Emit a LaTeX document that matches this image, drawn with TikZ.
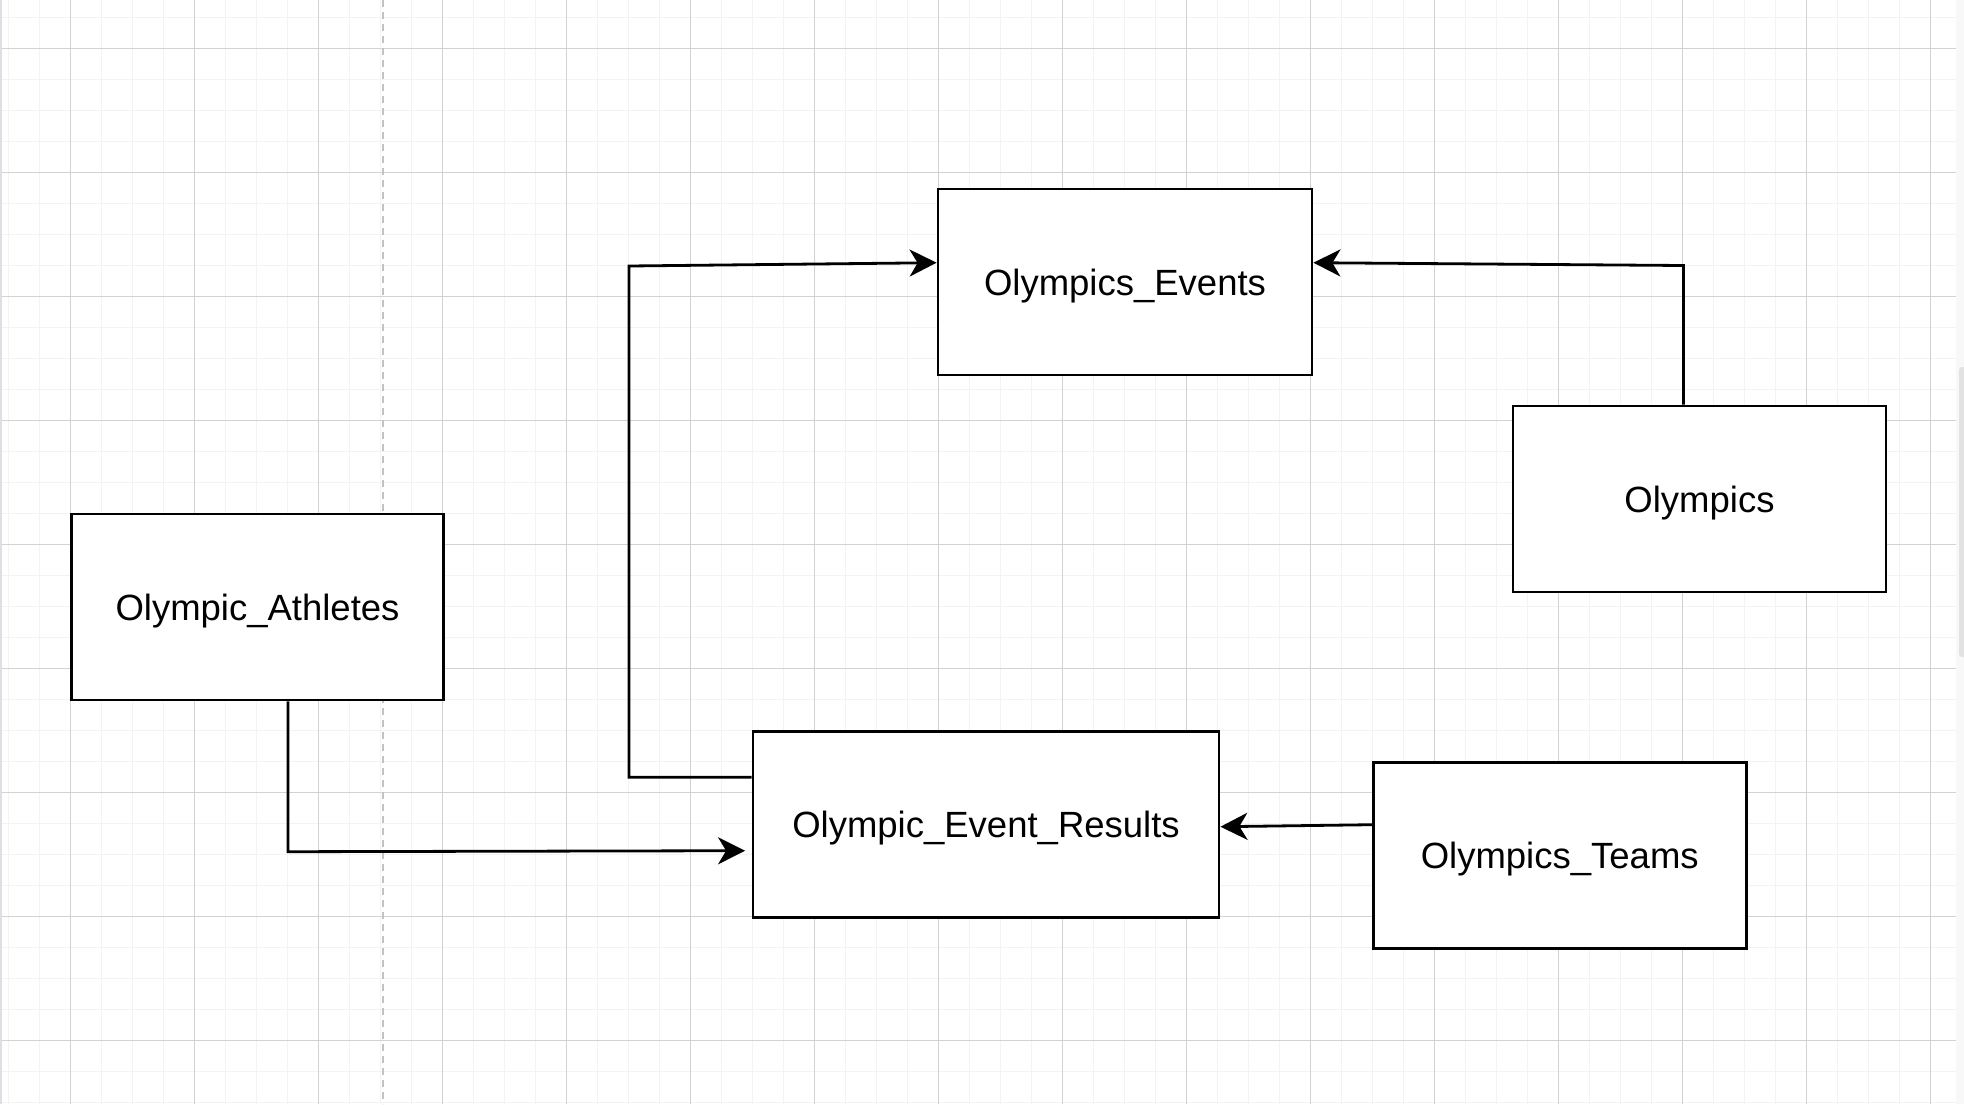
\documentclass[tikz,border=0pt]{standalone}
\usepackage{fontspec}
\setmainfont{Liberation Sans}
\usetikzlibrary{arrows.meta}
\definecolor{minorgrid}{HTML}{F3F3F3}
\definecolor{majorgrid}{HTML}{D2D2D2}
\definecolor{dashgray}{HTML}{C2C2C2}
\definecolor{leftstrip}{HTML}{DCE0E5}
\definecolor{rightstrip}{HTML}{F8F8F8}
\definecolor{scrollbar}{HTML}{E2E2E2}
\tikzset{
  entity/.style={draw=black, line width=2.8pt, fill=white, minimum height=186pt,
    inner sep=0pt, text height=26pt, text depth=0pt,
    font=\fontsize{36.5pt}{44pt}\selectfont},
  conn/.style={draw=black, line width=2.8pt},
  arr/.style={conn, -{Stealth[length=27pt, width=27pt, inset=8pt]}},
  minorline/.style={draw=minorgrid, line width=1.3pt},
  majorline/.style={draw=majorgrid, line width=1pt},
}
\begin{document}
\begin{tikzpicture}[x=1pt, y=-1pt]
\useasboundingbox (0,0) rectangle (1964,1104);
\fill[white] (0,0) rectangle (1964,1104);
% minor grid
\foreach \k in {0,...,62} {\draw[minorline] ({8.8+31*\k},0) -- ({8.8+31*\k},1104);}
\foreach \k in {0,...,35} {\draw[minorline] (2,{17.3+31*\k}) -- (1956,{17.3+31*\k});}
% major grid
\foreach \k in {0,...,15} {\draw[majorline] ({70.8+124*\k},0) -- ({70.8+124*\k},1104);}
\foreach \k in {0,...,8} {\draw[majorline] (2,{48.3+124*\k}) -- (1956,{48.3+124*\k});}
% page break dashed line
\draw[draw=dashgray, line width=1.6pt, dash pattern=on 7pt off 5pt] (382.7,0) -- (382.7,1104);
% side strips
\fill[leftstrip] (0,0) rectangle (2,1104);
\fill[rightstrip] (1956,0) rectangle (1964,1104);
\fill[scrollbar, rounded corners=3pt] (1959,367) rectangle (1968,657);

% entities
\node[entity, minimum width=374pt] (ev) at (1125,282) {Olympics\_Events};
\node[entity, minimum width=373pt] (ol) at (1699.5,499) {Olympics};
\node[entity, minimum width=372pt] (ath) at (257.5,607) {Olympic\_Athletes};
\node[entity, minimum width=466pt] (res) at (986,824.5) {Olympic\_Event\_Results};
\node[entity, minimum width=373pt] (tm) at (1559.7,855.2) {Olympics\_Teams};

% bend points
\coordinate (k1) at (1683.5,265.5);
\coordinate (k2a) at (629,777.3);
\coordinate (k2b) at (629,266);
\coordinate (k3) at (288,851.7);

% connectors
\draw[arr] (k1 |- ol.north) -- (k1) -- ([yshift=19.3pt]ev.east);
\draw[arr] (res.west |- k2a) -- (k2a) -- (k2b) -- ([yshift=19.3pt]ev.west);
\draw[arr] (k3 |- ath.south) -- (k3) -- ([xshift=-6.5pt, yshift=-26.2pt]res.west);
\draw[arr] ([yshift=30.5pt]tm.west) -- ([yshift=-2.2pt]res.east);
\end{tikzpicture}
\end{document}
